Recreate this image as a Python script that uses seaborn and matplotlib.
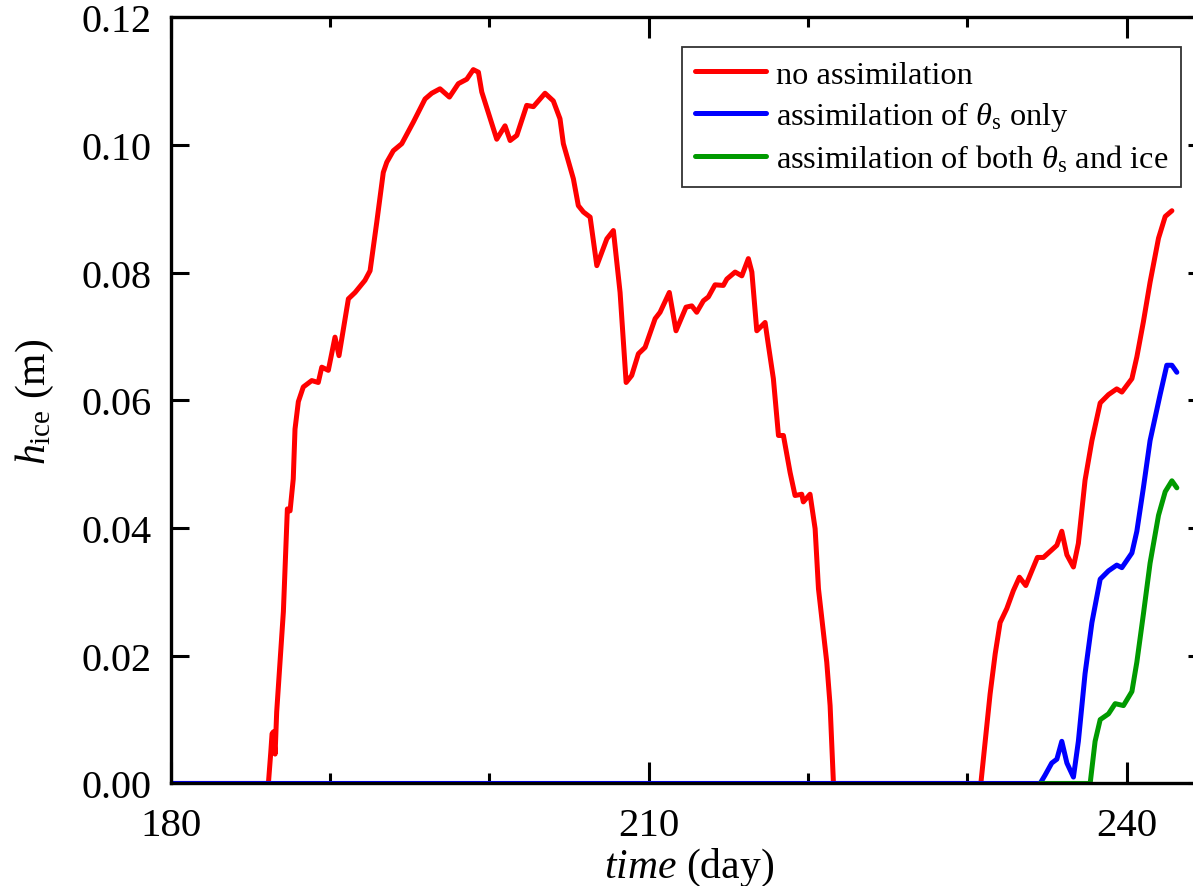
import numpy as np
import pandas as pd
import matplotlib
matplotlib.use("Agg")
import matplotlib.pyplot as plt
import seaborn as sns
from matplotlib.ticker import MultipleLocator, FormatStrFormatter, FixedLocator

# ---------------- data ----------------
red_t = [180.00, 186.13, 186.28, 186.36, 186.45, 186.55, 186.65, 187.07, 187.32, 187.49,
         187.69, 187.80, 188.01, 188.32, 188.85, 189.26, 189.48, 189.89, 190.31, 190.56,
         191.15, 191.57, 192.19, 192.51, 192.93, 193.34, 193.56, 193.97, 194.50, 195.23,
         195.96, 196.38, 196.90, 197.49, 198.05, 198.58, 198.99, 199.31, 199.52, 200.46,
         200.98, 201.30, 201.72, 202.34, 202.76, 203.49, 204.01, 204.43, 204.64, 205.27,
         205.58, 205.90, 206.32, 206.74, 207.37, 207.78, 208.20, 208.58, 208.93, 209.35,
         209.77, 210.40, 210.71, 211.29, 211.71, 212.34, 212.70, 213.01, 213.43, 213.74,
         214.16, 214.68, 214.90, 215.42, 215.84, 216.25, 216.47, 216.78, 217.30, 217.51,
         217.82, 218.14, 218.45, 218.87, 219.18, 219.60, 219.70, 220.12, 220.44, 220.65,
         221.17, 221.38, 221.59,
         230.84, 231.42, 231.74, 232.05, 232.47, 232.88, 233.26, 233.66, 234.04, 234.39,
         234.77, 235.61, 235.92, 236.24, 236.65, 236.96, 237.38, 237.81, 238.33, 238.85,
         239.37, 239.69, 240.32, 240.63, 241.04, 241.46, 241.99, 242.41, 242.83]
red_h = [0.0, 0.0, 0.0049, 0.0078, 0.0081, 0.0046, 0.0112, 0.0269, 0.0430, 0.0427,
         0.0477, 0.0555, 0.0598, 0.0621, 0.0631, 0.0628, 0.0652, 0.0647, 0.0699, 0.0670,
         0.0759, 0.0769, 0.0788, 0.0803, 0.0879, 0.0957, 0.0973, 0.0991, 0.1002, 0.1036,
         0.1072, 0.1081, 0.1088, 0.1075, 0.1096, 0.1103, 0.1118, 0.1114, 0.1083, 0.1009,
         0.1030, 0.1007, 0.1015, 0.1062, 0.1060, 0.1081, 0.1069, 0.1041, 0.1002, 0.0947,
         0.0905, 0.0895, 0.0887, 0.0811, 0.0853, 0.0866, 0.0769, 0.0628, 0.0639, 0.0673,
         0.0683, 0.0728, 0.0738, 0.0769, 0.0709, 0.0746, 0.0748, 0.0738, 0.0756, 0.0762,
         0.0781, 0.0780, 0.0790, 0.0801, 0.0795, 0.0822, 0.0801, 0.0709, 0.0722, 0.0686,
         0.0634, 0.0545, 0.0545, 0.0487, 0.0451, 0.0453, 0.0441, 0.0453, 0.0399, 0.0305,
         0.0190, 0.0122, 0.0,
         0.0, 0.0140, 0.0203, 0.0252, 0.0274, 0.0302, 0.0323, 0.0310, 0.0333, 0.0354,
         0.0354, 0.0373, 0.0395, 0.0358, 0.0339, 0.0376, 0.0475, 0.0537, 0.0596, 0.0609,
         0.0618, 0.0613, 0.0634, 0.0668, 0.0723, 0.0785, 0.0854, 0.0888, 0.0897]

blue_t = [180.00, 234.56, 234.87, 235.29, 235.61, 235.92, 236.24, 236.65, 236.96, 237.38,
          237.81, 238.33, 238.85, 239.37, 239.69, 240.32, 240.63, 241.04, 241.46, 242.09,
          242.51, 242.83, 243.14]
blue_h = [0.0, 0.0, 0.0013, 0.0032, 0.0038, 0.0066, 0.0032, 0.0010, 0.0066, 0.0172,
          0.0252, 0.0320, 0.0333, 0.0342, 0.0338, 0.0361, 0.0395, 0.0463, 0.0537, 0.0609,
          0.0655, 0.0655, 0.0644]

green_t = [234.56, 237.70, 238.01, 238.33, 238.85, 239.27, 239.79, 240.32, 240.63, 241.04,
           241.46, 241.99, 242.41, 242.83, 243.14]
green_h = [0.0, 0.0, 0.0066, 0.0100, 0.0109, 0.0125, 0.0122, 0.0144, 0.0190, 0.0265,
           0.0345, 0.0420, 0.0457, 0.0474, 0.0463]

labels = ["no assimilation",
          r"assimilation of $\theta_{\rm s}$ only",
          r"assimilation of both $\theta_{\rm s}$ and ice"]
colors = ["#ff0000", "#0000ff", "#009a00"]

x_major = [180, 210, 240]
x_minor = [190, 200, 220, 230]

# ---------------- style ----------------
sns.set_theme(style="ticks")
plt.rcParams["font.family"] = ["Liberation Serif", "DejaVu Serif"]
plt.rcParams["mathtext.fontset"] = "custom"
plt.rcParams["mathtext.rm"] = "Liberation Serif"
plt.rcParams["mathtext.it"] = "Liberation Serif:italic"
plt.rcParams["mathtext.bf"] = "Liberation Serif:bold"
plt.rcParams["text.color"] = "black"
plt.rcParams["axes.labelcolor"] = "black"
plt.rcParams["legend.labelcolor"] = "black"

df = pd.concat([
    pd.DataFrame({"t": red_t, "h": red_h, "series": labels[0]}),
    pd.DataFrame({"t": blue_t, "h": blue_h, "series": labels[1]}),
    pd.DataFrame({"t": green_t, "h": green_h, "series": labels[2]}),
], ignore_index=True)

fig = plt.figure(figsize=(11.93, 8.87), dpi=100)
ax = fig.add_axes([0.1431, 0.1156, 0.8682, 0.8638])

sns.lineplot(data=df, x="t", y="h", hue="series", hue_order=labels,
             palette=dict(zip(labels, colors)), estimator=None, sort=False,
             linewidth=3.6, ax=ax)

ax.set_xlim(180, 245)
ax.set_ylim(0, 0.12)

ax.xaxis.set_major_locator(FixedLocator(x_major))
ax.xaxis.set_minor_locator(FixedLocator(x_minor))
ax.yaxis.set_major_locator(MultipleLocator(0.02))
ax.yaxis.set_major_formatter(FormatStrFormatter("%.2f"))

for sp in ax.spines.values():
    sp.set_linewidth(2.4)
    sp.set_color("black")

ax.tick_params(axis="x", which="major", direction="in", length=15, width=2.2,
               top=True, bottom=True, labelsize=29.5, pad=17, colors="black")
ax.tick_params(axis="x", which="minor", direction="in", length=7.5, width=2.2,
               top=True, bottom=True, colors="black")
ax.tick_params(axis="y", which="major", direction="in", length=13, width=2.2,
               left=True, right=True, labelsize=29, pad=14, colors="black")

ax.set_xlabel(r"$time$ (day)", fontsize=30, labelpad=1.5, color="black")
ax.set_ylabel(r"$h_{\rm ice}$ (m)", fontsize=30, labelpad=18, color="black")

h, l = ax.get_legend_handles_labels()
leg = ax.legend(h, l, loc="upper right", bbox_to_anchor=(0.9755, 0.9612),
                borderaxespad=0, fontsize=23.3, frameon=True, fancybox=False,
                edgecolor="#333333", framealpha=1, handlelength=2.2,
                handletextpad=0.3, labelspacing=0.3, borderpad=0.4)
leg.get_frame().set_linewidth(1.3)
for line in leg.get_lines():
    line.set_linewidth(3.6)
for txt in leg.get_texts():
    txt.set_color("black")

fig.savefig("out.png", dpi=100)
